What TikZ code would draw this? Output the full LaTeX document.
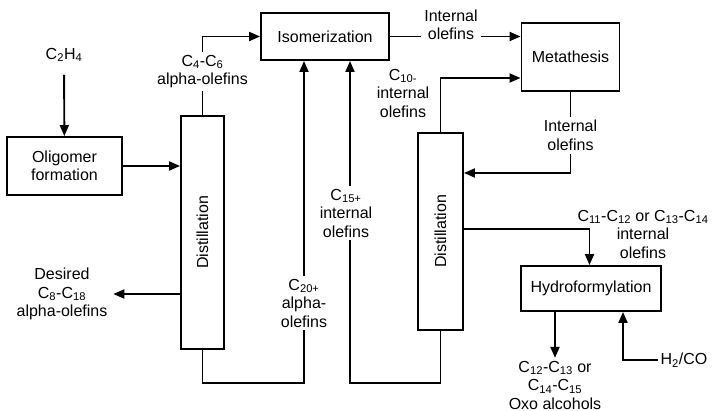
\documentclass[tikz,border=0pt]{standalone}
\usepackage{fontspec}
\setmainfont{Liberation Sans}
\usepackage{graphicx}
\usetikzlibrary{arrows.meta}

\begin{document}
\begin{tikzpicture}[x=1pt,y=-1pt,>={Triangle[length=11pt,width=9pt]},
    line width=1.9pt,
    every node/.style={font=\fontsize{16}{18.5}\selectfont},
    block/.style={draw,line width=1.9pt,align=center,inner sep=0pt},
    lbl/.style={align=center,inner sep=2pt}]

\useasboundingbox (0,0) rectangle (712,411);

% Blöcke
\node[block,minimum width=115pt,minimum height=58pt] (olig) at (64.5,166) {Oligomer\\formation};
\node[block,minimum width=43pt,minimum height=233pt] (dist1) at (202.5,232.5) {\rotatebox{90}{Distillation}};
\node[block,minimum width=128pt,minimum height=47pt] (iso) at (325,36.5) {Isomerization};
\node[block,minimum width=98pt,minimum height=68pt] (meta) at (570.5,57) {Metathesis};
\node[block,minimum width=45pt,minimum height=197pt] (dist2) at (440.5,231.5) {\rotatebox{90}{Distillation}};
\node[block,minimum width=140pt,minimum height=45pt] (hydro) at (591,288.5) {Hydroformylation};

% Beschriftungen
\node[lbl] (c2h4) at (64,55) {C\textsubscript{2}H\textsubscript{4}};
\node[lbl] (c46) at (202.5,71.5) {C\textsubscript{4}-C\textsubscript{6}\\alpha-olefins};
\node[lbl] (wanted) at (62,294) {Desired\\C\textsubscript{8}-C\textsubscript{18}\\alpha-olefins};
\node[lbl] (c20) at (304,303) {C\textsubscript{20+}\\alpha-\\olefins};
\node[lbl] (c15) at (346,213) {C\textsubscript{15+}\\internal\\olefins};
\node[lbl] (intA) at (451,25) {Internal\\olefins};
\node[lbl] (c10) at (403,93) {C\textsubscript{10-}\\internal\\olefins};
\node[lbl] (intB) at (570.5,135.5) {Internal\\olefins};
\node[lbl] (c1114) at (643,234) {C\textsubscript{11}-C\textsubscript{12} or C\textsubscript{13}-C\textsubscript{14}\\internal\\olefins};
\node[lbl] (oxo) at (555,385) {C\textsubscript{12}-C\textsubscript{13} or\\C\textsubscript{14}-C\textsubscript{15}\\Oxo alcohols};
\node[lbl] (h2co) at (684,360) {H\textsubscript{2}/CO};

\coordinate (bot1) at (202.5,383);
\coordinate (bot2) at (440.5,383);

% Ströme
\draw[->,shorten <=10pt] (c2h4) -- (olig);
\draw[->] (olig) -- (olig -| dist1.west);
\draw (dist1.north) -- (c46.south);
\draw[->] (c46.north) |- (iso.west);
\draw[->] (wanted -| dist1.west) -- ([xshift=3pt]wanted.east);
\draw[->] (c20.north) -- (c20.north |- iso.south);
\draw (c20.south) |- (bot1) -- (dist1.south);
\draw[->] ([xshift=4pt]c15.north) -- ([xshift=4pt]c15.north |- iso.south);
\draw ([xshift=4pt]c15.south) |- (bot2) -- (dist2.south);
\draw (iso.east) -- (iso.east -| intA.west);
\draw[->] (iso.east -| intA.east) -- (meta.west |- iso.east);
\draw[->] (dist2.north) |- ([yshift=-21pt]meta.west);
\draw (meta.south) -- (intB.north);
\draw[->] (intB.south) |- ([yshift=58.5pt]dist2.east);
\draw[->] ([yshift=2.5pt]dist2.east) -| ([xshift=-1.5pt]hydro.north);
\draw[->] (hydro.south -| oxo) -- (oxo.north);
\draw[->] (h2co.west) -| ([xshift=32pt]hydro.south);

\end{tikzpicture}
\end{document}
